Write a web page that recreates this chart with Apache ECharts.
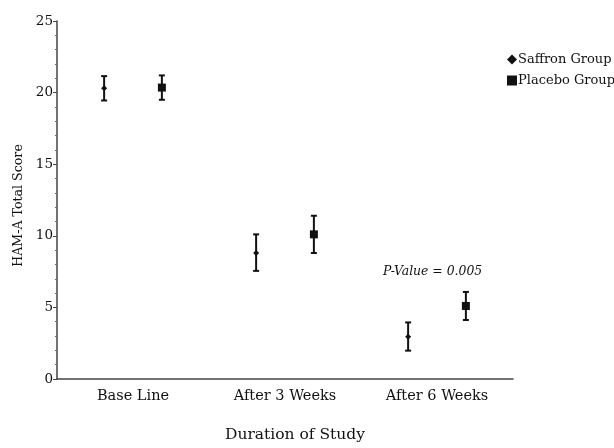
<!DOCTYPE html>
<html><head><meta charset="utf-8">
<script src="https://cdn.jsdelivr.net/npm/echarts@6/dist/echarts.min.js"></script>
<style>html,body{margin:0;padding:0;background:#fff}#c{width:614px;height:448px}</style>
</head><body><div id="c"></div>
<script>
var categories = ['Base Line', 'After 3 Weeks', 'After 6 Weeks'];
var saffronMean = [20.3, 8.8, 2.95];
var saffronLow = [19.45, 7.55, 1.98];
var saffronHigh = [21.15, 10.1, 3.95];
var placeboMean = [20.35, 10.1, 5.1];
var placeboLow = [19.5, 8.8, 4.12];
var placeboHigh = [21.2, 11.4, 6.08];
var yTicks = [0, 5, 10, 15, 20, 25];
var annotation = 'P-Value = 0.005';

var FONT = 'DejaVu Serif';

function makeData(mean, low, high) {
  return mean.map(function (m, i) { return [i, m, low[i], high[i]]; });
}

function errRender(shiftFrac, shape) {
  return function (params, api) {
    var band = api.size([1, 0])[0];
    var dx = band * shiftFrac;
    var c = api.coord([api.value(0), api.value(1)]);
    var lo = api.coord([api.value(0), api.value(2)]);
    var hi = api.coord([api.value(0), api.value(3)]);
    var x = c[0] + dx;
    var style = { stroke: '#111', lineWidth: 2 };
    var cap = 3;
    var children = [
      { type: 'line', shape: { x1: x, y1: hi[1], x2: x, y2: lo[1] }, style: style },
      { type: 'line', shape: { x1: x - cap, y1: hi[1], x2: x + cap, y2: hi[1] }, style: style },
      { type: 'line', shape: { x1: x - cap, y1: lo[1], x2: x + cap, y2: lo[1] }, style: style }
    ];
    if (shape === 'square') {
      children.push({ type: 'rect', shape: { x: x - 4, y: c[1] - 4, width: 8, height: 8 }, style: { fill: '#111' } });
    } else {
      children.push({ type: 'polygon', shape: { points: [[x, c[1] - 3], [x + 3, c[1]], [x, c[1] + 3], [x - 3, c[1]]] }, style: { fill: '#111' } });
    }
    return { type: 'group', children: children };
  };
}

var chart = echarts.init(document.getElementById('c'));
chart.setOption({
  animation: false,
  backgroundColor: '#fff',
  textStyle: { fontFamily: FONT },
  grid: { left: 57, top: 21, width: 456, height: 359, containLabel: false },
  legend: {
    orient: 'vertical', left: 502, top: 48, itemGap: 8,
    itemWidth: 10, itemHeight: 10,
    textStyle: { fontFamily: FONT, fontSize: 13, color: '#111', padding: [0, 0, 0, -4] },
    data: [
      { name: 'Saffron Group', icon: 'path://M5,2L8,5L5,8L2,5Z', itemStyle: { color: '#111' } },
      { name: 'Placebo Group', icon: 'rect', itemStyle: { color: '#111' } }
    ]
  },
  xAxis: {
    type: 'category', data: categories,
    name: 'Duration of Study', nameLocation: 'middle', nameGap: 48,
    nameTextStyle: { fontFamily: FONT, fontSize: 15.5, color: '#111', padding: [0, 0, 0, 20] },
    axisLine: { lineStyle: { color: '#444', width: 1.5 } },
    axisTick: { alignWithLabel: true, length: 4, lineStyle: { color: '#444' } },
    axisLabel: { fontFamily: FONT, fontSize: 14.5, color: '#111', margin: 10 }
  },
  yAxis: {
    type: 'value', min: 0, max: 25, interval: 5,
    name: 'HAM-A Total Score', nameLocation: 'middle', nameGap: 32,
    nameTextStyle: { fontFamily: FONT, fontSize: 12.6, color: '#111', padding: [0, 11, 0, 0] },
    axisLine: { show: true, lineStyle: { color: '#444', width: 1.5 } },
    axisTick: { show: true, length: 4, lineStyle: { color: '#444' } },
    minorTick: { show: true, splitNumber: 5, length: 2, lineStyle: { color: '#666' } },
    splitLine: { show: false },
    axisLabel: { fontFamily: FONT, fontSize: 13.5, color: '#111', margin: 4,
      formatter: function (v) { return yTicks.indexOf(v) >= 0 ? String(v) : ''; } }
  },
  series: [
    { name: 'Saffron Group', type: 'custom', itemStyle: { color: '#111' },
      renderItem: errRender(-0.19, 'diamond'), data: makeData(saffronMean, saffronLow, saffronHigh),
      encode: { x: 0, y: [1, 2, 3] } },
    { name: 'Placebo Group', type: 'custom', itemStyle: { color: '#111' },
      renderItem: errRender(0.19, 'square'), data: makeData(placeboMean, placeboLow, placeboHigh),
      encode: { x: 0, y: [1, 2, 3] } }
  ],
  graphic: [
    { type: 'text', left: 383, top: 266,
      style: { text: annotation, font: 'italic 12.4px "DejaVu Serif"', fill: '#111' } }
  ]
});
</script></body></html>
